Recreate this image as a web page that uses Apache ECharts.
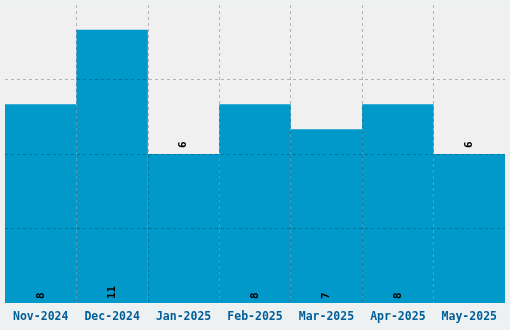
<!DOCTYPE html>
<html><head><meta charset="utf-8">
<script src="https://cdn.jsdelivr.net/npm/echarts@6/dist/echarts.min.js"></script>
<style>html,body{margin:0;padding:0;background:#eef1f2}#c{width:510px;height:330px}</style>
</head><body><div id="c"></div>
<script>
const categories = ['Nov-2024','Dec-2024','Jan-2025','Feb-2025','Mar-2025','Apr-2025','May-2025'];
const values = [8, 11, 6, 8, 7, 8, 6];
const labelAtTop = [false, false, true, false, false, false, true];

const font = '"DejaVu Sans Mono", monospace';
const chart = echarts.init(document.getElementById('c'));
chart.setOption({
  backgroundColor: '#eef1f2',
  animation: false,
  grid: {left: 5, right: 5, top: 5, bottom: 27, show: true, backgroundColor: '#f0f0f0', borderWidth: 0, containLabel: false},
  xAxis: {
    type: 'category', data: categories, z: 10,
    axisLine: {show: false}, axisTick: {show: false},
    splitLine: {show: true, showMinLine: false, showMaxLine: false, lineStyle: {color: 'rgba(0,0,0,0.25)', type: [3, 3], width: 1}},
    axisLabel: {interval: 0, color: '#005f99', fontFamily: font, fontWeight: 'bold', fontSize: 11.5, margin: 8}
  },
  yAxis: {
    type: 'value', min: 0, max: 12, interval: 3, z: 10,
    axisLine: {show: false}, axisTick: {show: false}, axisLabel: {show: false},
    splitLine: {show: true, showMinLine: false, showMaxLine: false, lineStyle: {color: 'rgba(0,0,0,0.25)', type: [3, 3], width: 1}}
  },
  series: [{
    type: 'bar', barCategoryGap: 0,
    itemStyle: {color: '#0199ca'},
    data: values.map((v, i) => ({
      value: v,
      label: labelAtTop[i]
        ? {show: true, position: 'top', rotate: 90, align: 'left', verticalAlign: 'middle', distance: 6}
        : {show: true, position: 'insideBottom', rotate: 90, align: 'left', verticalAlign: 'middle', distance: 4}
    })),
    label: {color: '#000', fontFamily: font, fontWeight: 'bold', fontSize: 11}
  }]
});
</script></body></html>
